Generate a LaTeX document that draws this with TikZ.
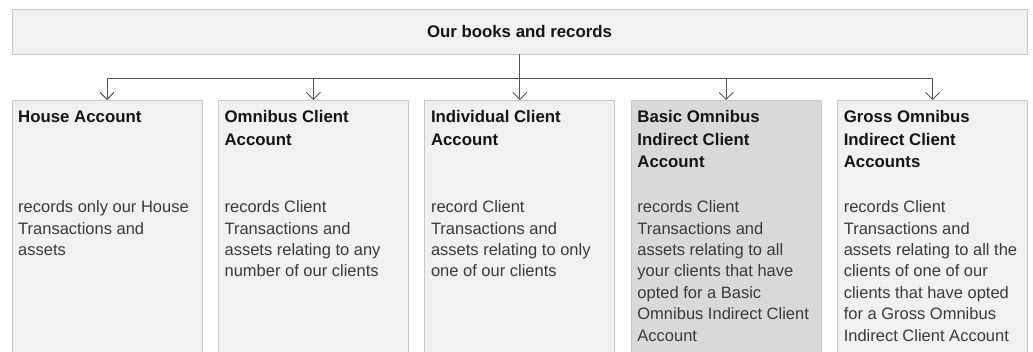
\documentclass[tikz,border=0pt]{standalone}
\usepackage{fontspec}
\setmainfont{Liberation Sans}
\usetikzlibrary{arrows.meta}
\definecolor{boxfill}{HTML}{F0F1F0}
\definecolor{boxdark}{HTML}{D9D9D9}
\definecolor{boxline}{HTML}{C9C9C9}
\definecolor{conncol}{HTML}{555555}
\definecolor{bodytext}{HTML}{3A3A3A}
\definecolor{titletext}{HTML}{151515}
\begin{document}
\begin{tikzpicture}[x=1pt,y=-1pt,
  acctbox/.style={draw=boxline, line width=0.8pt, fill=boxfill, anchor=north west,
    minimum width=190pt, minimum height=270pt, inner sep=0pt, outer sep=0pt},
  topbox/.style={draw=boxline, line width=0.8pt, fill=boxfill, anchor=north west,
    minimum width=1015pt, minimum height=45pt, inner sep=0pt, outer sep=0pt,
    font=\fontsize{16.8}{18}\selectfont\bfseries, text=titletext},
  titletxt/.style={anchor=north west, align=left, inner sep=0pt,
    font=\fontsize{16.8}{22.5}\selectfont\bfseries, text=titletext},
  bodytxt/.style={anchor=north west, align=left, inner sep=0pt,
    font=\fontsize{16.5}{21.4}\selectfont, text=bodytext},
  conn/.style={draw=conncol, line width=0.9pt,
    -{Straight Barb[length=7pt,width=14pt,line width=0.9pt]}}]
\clip (0,0) rectangle (1033,351);
\fill[white] (0,0) rectangle (1033,351);

\node[topbox] (top) at (12,9) {Our books and records};

\node[acctbox] (b1) at (12,100) {};
\node[acctbox] (b2) at (218.4,100) {};
\node[acctbox] (b3) at (424.8,100) {};
\node[acctbox, fill=boxdark] (b4) at (631.2,100) {};
\node[acctbox] (b5) at (837.6,100) {};

\foreach \b in {b1,b2,b3,b4,b5}{
  \draw[conn] (top.south) -- ++(0,24) -| (\b.north);
}

\node[titletxt] (t1) at ([xshift=6pt,yshift=-10.5pt]b1.north west) {House Account};
\node[titletxt] (t2) at ([xshift=6pt,yshift=-10.5pt]b2.north west) {Omnibus Client\\Account};
\node[titletxt] (t3) at ([xshift=6pt,yshift=-10.5pt]b3.north west) {Individual Client\\Account};
\node[titletxt] (t4) at ([xshift=6pt,yshift=-10.5pt]b4.north west) {Basic Omnibus\\Indirect Client\\Account};
\node[titletxt] (t5) at ([xshift=6pt,yshift=-10.5pt]b5.north west) {Gross Omnibus\\Indirect Client\\Accounts};

\node[bodytxt] (d1) at ([xshift=6pt,yshift=-100.5pt]b1.north west) {records only our House\\Transactions and\\assets};
\node[bodytxt] (d2) at ([xshift=6pt,yshift=-100.5pt]b2.north west) {records Client\\Transactions and\\assets relating to any\\number of our clients};
\node[bodytxt] (d3) at ([xshift=6pt,yshift=-100.5pt]b3.north west) {record Client\\Transactions and\\assets relating to only\\one of our clients};
\node[bodytxt] (d4) at ([xshift=6pt,yshift=-100.5pt]b4.north west) {records Client\\Transactions and\\assets relating to all\\your clients that have\\opted for a Basic\\Omnibus Indirect Client\\Account};
\node[bodytxt] (d5) at ([xshift=6pt,yshift=-100.5pt]b5.north west) {records Client\\Transactions and\\assets relating to all the\\clients of one of our\\clients that have opted\\for a Gross Omnibus\\Indirect Client Account};
\end{tikzpicture}
\end{document}
